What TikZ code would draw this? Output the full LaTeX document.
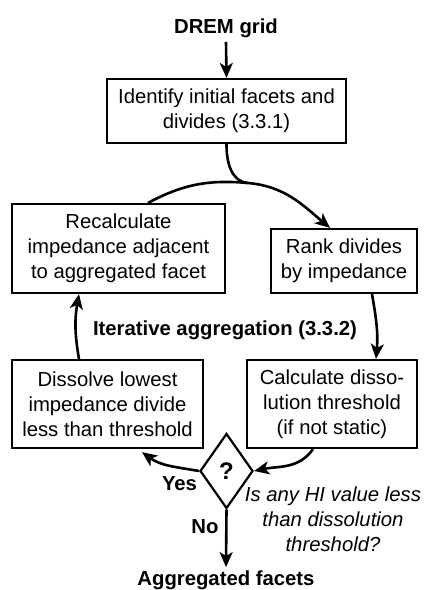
\documentclass[tikz,border=0pt]{standalone}
\usepackage{fontspec}
\setmainfont{Liberation Sans}
\usetikzlibrary{arrows.meta,shapes.geometric}
\begin{document}
\begin{tikzpicture}[x=1pt,y=-1pt,
  box/.style={draw, line width=2.2pt, align=center, inner sep=0pt,
    font=\fontsize{20.3}{24.8}\selectfont},
  arr/.style={line width=2.6pt, -{Stealth[length=15pt,width=13pt,inset=4pt]}},
  plain/.style={line width=2.6pt},
  lbl/.style={font=\fontsize{20.3}{24.8}\selectfont\bfseries, inner sep=0pt, anchor=base},
]
\useasboundingbox (0,0) rectangle (426,590);
% boxes
\node[box, minimum width=239pt, minimum height=64pt] (B1) at (226.5,111)
  {Identify initial facets and\\divides (3.3.1)};
\node[box, minimum width=213pt, minimum height=89pt] (B2) at (118.5,248.5)
  {Recalculate\\impedance adjacent\\to aggregated facet};
\node[box, minimum width=146pt, minimum height=64pt] (B3) at (344,261)
  {Rank divides\\by impedance};
\node[box, minimum width=191pt, minimum height=88pt] (B4) at (107.5,404)
  {Dissolve lowest\\impedance divide\\less than threshold};
\node[box, minimum width=170pt, minimum height=88pt] (B5) at (332,404)
  {Calculate disso-\\lution threshold\\(if not static)};
\node[draw, diamond, line width=2.2pt, minimum width=53pt, minimum height=75pt,
  inner sep=0pt, font=\fontsize{24}{24}\selectfont\bfseries] (D) at (226.5,471) {?};
% labels
\node[lbl] (top) at (226,33.3) {DREM grid};
\node[lbl] (iter) at (225,335) {Iterative aggregation (3.3.2)};
\node[lbl] (yes) at (179.5,490) {Yes};
\node[lbl] (no) at (205,533) {No};
\node[lbl] (agg) at (226,585) {Aggregated facets};
\node[font=\fontsize{20.3}{25}\selectfont\itshape, align=center, inner sep=0pt] (Q)
  at (333,519.3) {Is any HI value less\\than dissolution\\threshold?};
% connectors
\coordinate (J) at (248,183);
\draw[arr] ([yshift=-4pt]top.south) -- (B1.north);
\draw[plain] (B1.south) to[out=-90,in=175] (J);
\draw[arr] ([xshift=29.5pt]B2.north) to[out=28,in=175] (J) to[out=-5,in=140] ([xshift=-14pt]B3.north);
\draw[arr] ([xshift=28pt]B3.south) to[out=-80,in=85] ([xshift=44pt]B5.north);
\draw[arr] ([xshift=-19pt]B5.south) to[out=-125,in=12] (D.east);
\draw[arr] (D.west) to[out=170,in=-36] ([xshift=34.5pt,yshift=-3pt]B4.south);
\draw[arr] ([xshift=-28.5pt]B4.north) to[out=100,in=-100] ([xshift=-39.5pt]B2.south);
\draw[arr] (D.south) -- ([yshift=3pt]agg.north);
\end{tikzpicture}
\end{document}
